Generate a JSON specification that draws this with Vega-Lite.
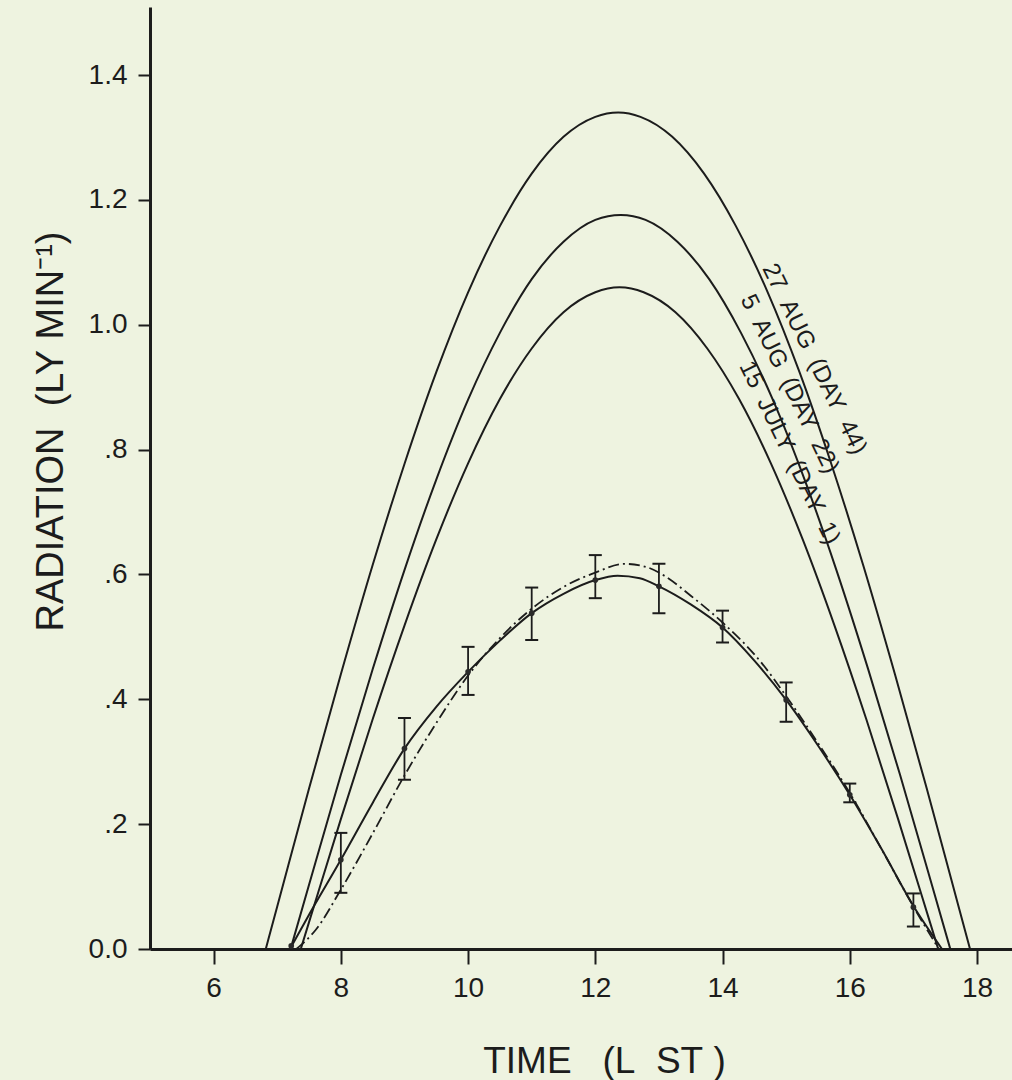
{
  "$schema": "https://vega.github.io/schema/vega-lite/v6.json",
  "width": 862,
  "height": 942,
  "autosize": {"type": "none"},
  "padding": {"left": 150, "top": 7, "right": 0, "bottom": 131},
  "background": "#eef3e0",
  "config": {"view": {"stroke": null}, "font": "Liberation Sans"},
  "datasets": {
    "curves": [
      {"s": "27 AUG", "h": 6.82, "v": 0}, {"s": "27 AUG", "h": 7.0, "v": 0.068}, {"s": "27 AUG", "h": 7.5, "v": 0.257}, {"s": "27 AUG", "h": 8.0, "v": 0.44}, {"s": "27 AUG", "h": 8.5, "v": 0.615}, {"s": "27 AUG", "h": 9.0, "v": 0.777}, {"s": "27 AUG", "h": 9.5, "v": 0.924}, {"s": "27 AUG", "h": 10.0, "v": 1.052}, {"s": "27 AUG", "h": 10.5, "v": 1.158}, {"s": "27 AUG", "h": 11.0, "v": 1.242}, {"s": "27 AUG", "h": 11.5, "v": 1.301}, {"s": "27 AUG", "h": 12.0, "v": 1.333}, {"s": "27 AUG", "h": 12.36, "v": 1.34}, {"s": "27 AUG", "h": 12.71, "v": 1.333}, {"s": "27 AUG", "h": 13.21, "v": 1.301}, {"s": "27 AUG", "h": 13.71, "v": 1.242}, {"s": "27 AUG", "h": 14.21, "v": 1.158}, {"s": "27 AUG", "h": 14.71, "v": 1.052}, {"s": "27 AUG", "h": 15.21, "v": 0.924}, {"s": "27 AUG", "h": 15.71, "v": 0.777}, {"s": "27 AUG", "h": 16.21, "v": 0.615}, {"s": "27 AUG", "h": 16.71, "v": 0.44}, {"s": "27 AUG", "h": 17.21, "v": 0.257}, {"s": "27 AUG", "h": 17.71, "v": 0.068}, {"s": "27 AUG", "h": 17.89, "v": 0},
      {"s": "5 AUG", "h": 7.21, "v": 0}, {"s": "5 AUG", "h": 7.5, "v": 0.103}, {"s": "5 AUG", "h": 8.0, "v": 0.279}, {"s": "5 AUG", "h": 8.5, "v": 0.448}, {"s": "5 AUG", "h": 9.0, "v": 0.607}, {"s": "5 AUG", "h": 9.5, "v": 0.752}, {"s": "5 AUG", "h": 10.0, "v": 0.88}, {"s": "5 AUG", "h": 10.5, "v": 0.987}, {"s": "5 AUG", "h": 11.0, "v": 1.073}, {"s": "5 AUG", "h": 11.5, "v": 1.133}, {"s": "5 AUG", "h": 12.0, "v": 1.168}, {"s": "5 AUG", "h": 12.4, "v": 1.176}, {"s": "5 AUG", "h": 12.79, "v": 1.168}, {"s": "5 AUG", "h": 13.29, "v": 1.133}, {"s": "5 AUG", "h": 13.79, "v": 1.073}, {"s": "5 AUG", "h": 14.29, "v": 0.987}, {"s": "5 AUG", "h": 14.79, "v": 0.88}, {"s": "5 AUG", "h": 15.29, "v": 0.752}, {"s": "5 AUG", "h": 15.79, "v": 0.607}, {"s": "5 AUG", "h": 16.29, "v": 0.448}, {"s": "5 AUG", "h": 16.79, "v": 0.279}, {"s": "5 AUG", "h": 17.29, "v": 0.103}, {"s": "5 AUG", "h": 17.58, "v": 0},
      {"s": "15 JULY", "h": 7.37, "v": 0}, {"s": "15 JULY", "h": 7.5, "v": 0.043}, {"s": "15 JULY", "h": 8.0, "v": 0.208}, {"s": "15 JULY", "h": 8.5, "v": 0.368}, {"s": "15 JULY", "h": 9.0, "v": 0.518}, {"s": "15 JULY", "h": 9.5, "v": 0.656}, {"s": "15 JULY", "h": 10.0, "v": 0.778}, {"s": "15 JULY", "h": 10.5, "v": 0.881}, {"s": "15 JULY", "h": 11.0, "v": 0.962}, {"s": "15 JULY", "h": 11.5, "v": 1.02}, {"s": "15 JULY", "h": 12.0, "v": 1.052}, {"s": "15 JULY", "h": 12.38, "v": 1.06}, {"s": "15 JULY", "h": 12.76, "v": 1.052}, {"s": "15 JULY", "h": 13.26, "v": 1.02}, {"s": "15 JULY", "h": 13.76, "v": 0.962}, {"s": "15 JULY", "h": 14.26, "v": 0.881}, {"s": "15 JULY", "h": 14.76, "v": 0.778}, {"s": "15 JULY", "h": 15.26, "v": 0.656}, {"s": "15 JULY", "h": 15.76, "v": 0.518}, {"s": "15 JULY", "h": 16.26, "v": 0.368}, {"s": "15 JULY", "h": 16.76, "v": 0.208}, {"s": "15 JULY", "h": 17.26, "v": 0.043}, {"s": "15 JULY", "h": 17.39, "v": 0},
      {"s": "observed", "h": 7.2, "v": 0}, {"s": "observed", "h": 7.5, "v": 0.055}, {"s": "observed", "h": 8.0, "v": 0.143}, {"s": "observed", "h": 8.5, "v": 0.234}, {"s": "observed", "h": 9.0, "v": 0.321}, {"s": "observed", "h": 9.5, "v": 0.388}, {"s": "observed", "h": 10.0, "v": 0.444}, {"s": "observed", "h": 10.5, "v": 0.494}, {"s": "observed", "h": 11.0, "v": 0.538}, {"s": "observed", "h": 11.5, "v": 0.569}, {"s": "observed", "h": 12.0, "v": 0.591}, {"s": "observed", "h": 12.35, "v": 0.598}, {"s": "observed", "h": 12.7, "v": 0.594}, {"s": "observed", "h": 13.0, "v": 0.581}, {"s": "observed", "h": 13.5, "v": 0.552}, {"s": "observed", "h": 14.0, "v": 0.515}, {"s": "observed", "h": 14.5, "v": 0.462}, {"s": "observed", "h": 15.0, "v": 0.399}, {"s": "observed", "h": 15.5, "v": 0.326}, {"s": "observed", "h": 16.0, "v": 0.247}, {"s": "observed", "h": 16.5, "v": 0.16}, {"s": "observed", "h": 17.0, "v": 0.069}, {"s": "observed", "h": 17.45, "v": 0},
      {"s": "model", "h": 7.3, "v": 0}, {"s": "model", "h": 7.6, "v": 0.03}, {"s": "model", "h": 8.0, "v": 0.095}, {"s": "model", "h": 8.5, "v": 0.185}, {"s": "model", "h": 9.0, "v": 0.278}, {"s": "model", "h": 9.5, "v": 0.362}, {"s": "model", "h": 10.0, "v": 0.438}, {"s": "model", "h": 10.5, "v": 0.498}, {"s": "model", "h": 11.0, "v": 0.545}, {"s": "model", "h": 11.5, "v": 0.58}, {"s": "model", "h": 12.0, "v": 0.603}, {"s": "model", "h": 12.45, "v": 0.617}, {"s": "model", "h": 12.8, "v": 0.612}, {"s": "model", "h": 13.1, "v": 0.597}, {"s": "model", "h": 13.5, "v": 0.566}, {"s": "model", "h": 14.0, "v": 0.523}, {"s": "model", "h": 14.6, "v": 0.46}, {"s": "model", "h": 15.0, "v": 0.405}, {"s": "model", "h": 15.5, "v": 0.33}, {"s": "model", "h": 16.0, "v": 0.25}, {"s": "model", "h": 16.5, "v": 0.16}, {"s": "model", "h": 17.0, "v": 0.068}, {"s": "model", "h": 17.4, "v": 0}
    ],
    "bars": [
      {"h": 7.22, "v": 0.005, "lo": null, "hi": null},
      {"h": 8, "v": 0.143, "lo": 0.09, "hi": 0.186},
      {"h": 9, "v": 0.321, "lo": 0.271, "hi": 0.37},
      {"h": 10, "v": 0.444, "lo": 0.407, "hi": 0.484},
      {"h": 11, "v": 0.538, "lo": 0.495, "hi": 0.579},
      {"h": 12, "v": 0.591, "lo": 0.562, "hi": 0.631},
      {"h": 13, "v": 0.581, "lo": 0.538, "hi": 0.617},
      {"h": 14, "v": 0.515, "lo": 0.491, "hi": 0.542},
      {"h": 15, "v": 0.399, "lo": 0.364, "hi": 0.427},
      {"h": 16, "v": 0.247, "lo": 0.235, "hi": 0.265},
      {"h": 17, "v": 0.067, "lo": 0.036, "hi": 0.089}
    ],
    "labels": [
      {"h": 15.44, "v": 0.945, "t": "27\u00a0\u00a0AUG\u00a0\u00a0(DAY\u00a0\u00a044)"},
      {"h": 15.05, "v": 0.905, "t": "5\u00a0\u00a0AUG\u00a0\u00a0(DAY\u00a0\u00a022)"},
      {"h": 15.05, "v": 0.795, "t": "15\u00a0\u00a0JULY\u00a0\u00a0(DAY\u00a0\u00a01)"}
    ]
  },
  "layer": [
    {
      "data": {"name": "curves"},
      "transform": [{"filter": "datum.s !== 'model'"}],
      "mark": {"type": "line", "interpolate": "monotone", "strokeWidth": 2, "color": "#1c1c1c"},
      "encoding": {
        "x": {"field": "h", "type": "quantitative",
          "scale": {"domain": [5, 18.55], "nice": false, "zero": false},
          "axis": {"title": "TIME\u00a0\u00a0\u00a0(L\u00a0\u00a0ST\u00a0)", "values": [6, 8, 10, 12, 14, 16, 18], "format": "d",
            "grid": false, "domainColor": "#1c1c1c", "domainWidth": 3, "tickColor": "#1c1c1c", "tickWidth": 2, "tickSize": 15,
            "labelFont": "Liberation Sans", "labelFontSize": 28, "labelColor": "#1c1c1c", "labelPadding": 10,
            "titleFont": "Liberation Sans", "titleFontSize": 37, "titleFontWeight": "normal", "titleColor": "#1c1c1c",
            "titleX": 454, "titleY": 123, "titleAlign": "center", "titleBaseline": "alphabetic", "titleAnchor": null}},
        "y": {"field": "v", "type": "quantitative",
          "scale": {"domain": [0, 1.509], "nice": false},
          "axis": {"title": "RADIATION\u00a0\u00a0(LY\u00a0MIN⁻¹)", "values": [0, 0.2, 0.4, 0.6, 0.8, 1.0, 1.2, 1.4],
            "labelExpr": "datum.value == 0 ? '0.0' : (datum.value >= 1 ? format(datum.value, '.1f') : replace(format(datum.value, '.1f'), '0.', '.'))",
            "grid": false, "domainColor": "#1c1c1c", "domainWidth": 3, "tickColor": "#1c1c1c", "tickWidth": 2, "tickSize": 12,
            "labelFont": "Liberation Sans", "labelFontSize": 28, "labelColor": "#1c1c1c", "labelPadding": 11,
            "titleFont": "Liberation Sans", "titleFontSize": 38, "titleFontWeight": "normal", "titleColor": "#1c1c1c",
            "titleAngle": -90, "titleX": -88, "titleY": 424, "titleAlign": "center", "titleBaseline": "alphabetic", "titleAnchor": null}},
        "detail": {"field": "s", "type": "nominal"}
      }
    },
    {
      "data": {"name": "curves"},
      "transform": [{"filter": "datum.s === 'model'"}],
      "mark": {"type": "line", "interpolate": "monotone", "strokeWidth": 1.8, "color": "#1c1c1c", "strokeDash": [11, 4, 2, 4]},
      "encoding": {
        "x": {"field": "h", "type": "quantitative"},
        "y": {"field": "v", "type": "quantitative"}
      }
    },
    {
      "data": {"name": "bars"},
      "mark": {"type": "rule", "strokeWidth": 1.8, "color": "#1c1c1c"},
      "encoding": {
        "x": {"field": "h", "type": "quantitative"},
        "y": {"field": "lo", "type": "quantitative"},
        "y2": {"field": "hi"}
      }
    },
    {
      "data": {"name": "bars"},
      "mark": {"type": "tick", "orient": "horizontal", "size": 13, "thickness": 2, "color": "#1c1c1c", "opacity": 1},
      "encoding": {
        "x": {"field": "h", "type": "quantitative"},
        "y": {"field": "lo", "type": "quantitative"}
      }
    },
    {
      "data": {"name": "bars"},
      "mark": {"type": "tick", "orient": "horizontal", "size": 13, "thickness": 2, "color": "#1c1c1c", "opacity": 1},
      "encoding": {
        "x": {"field": "h", "type": "quantitative"},
        "y": {"field": "hi", "type": "quantitative"}
      }
    },
    {
      "data": {"name": "bars"},
      "mark": {"type": "circle", "size": 32, "color": "#2a2a2a", "opacity": 1},
      "encoding": {
        "x": {"field": "h", "type": "quantitative"},
        "y": {"field": "v", "type": "quantitative"}
      }
    },
    {
      "data": {"name": "labels"},
      "mark": {"type": "text", "angle": 64, "align": "center", "baseline": "middle", "font": "Liberation Sans", "fontSize": 24, "color": "#1c1c1c"},
      "encoding": {
        "x": {"field": "h", "type": "quantitative"},
        "y": {"field": "v", "type": "quantitative"},
        "text": {"field": "t", "type": "nominal"}
      }
    }
  ]
}
